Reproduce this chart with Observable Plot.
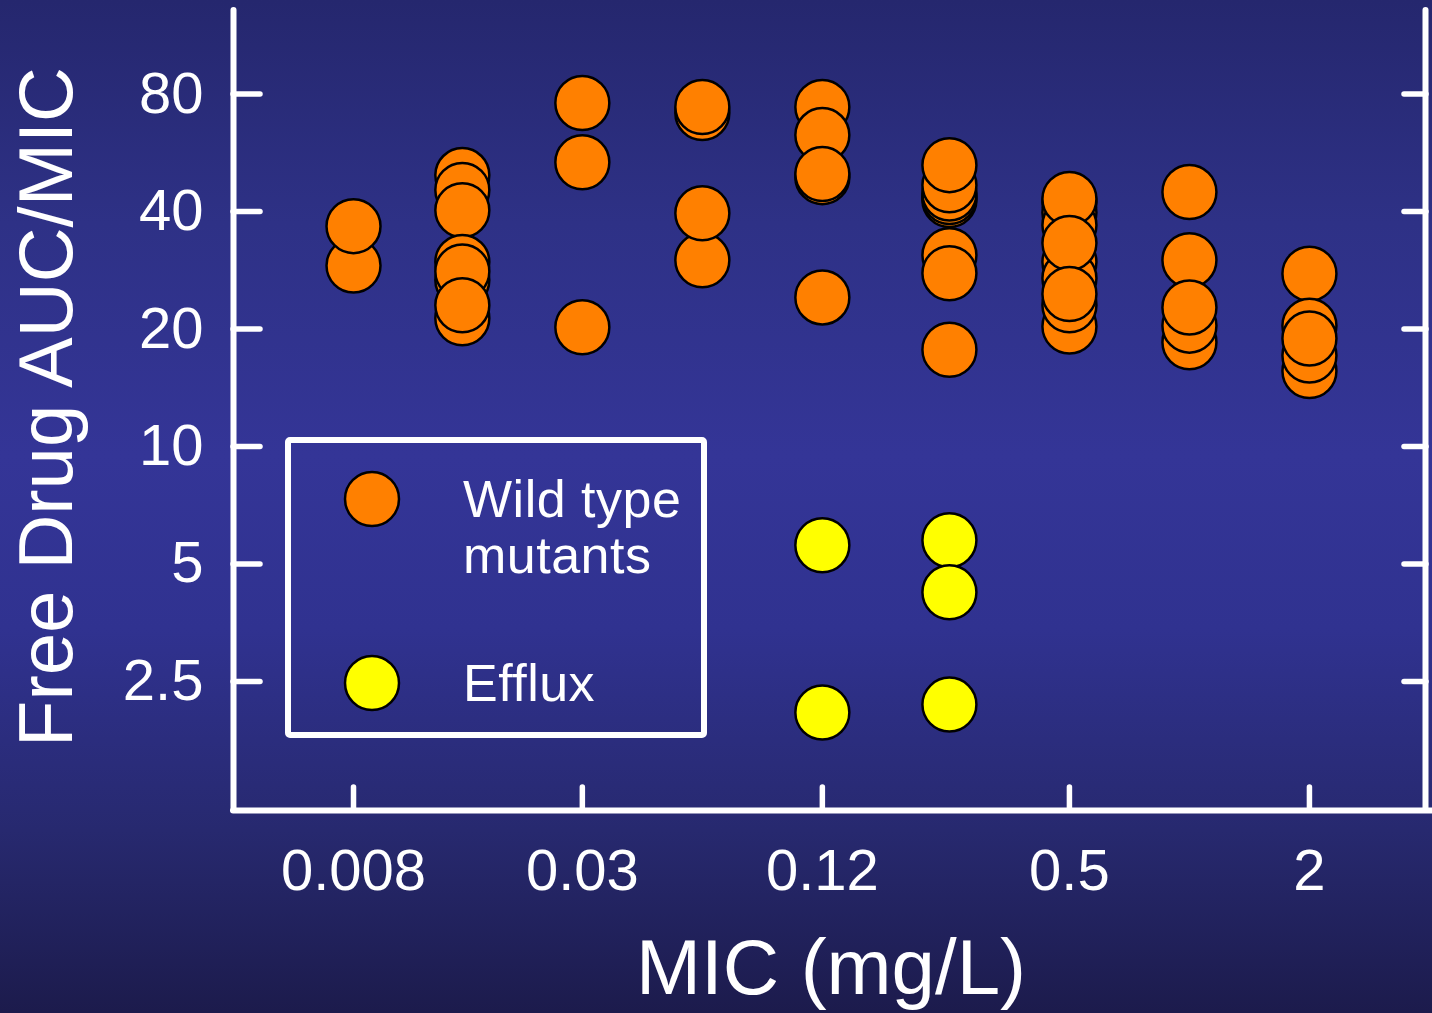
<!DOCTYPE html>
<html>
<head>
<meta charset="utf-8">
<script src="https://cdn.jsdelivr.net/npm/d3@7"></script>
<script src="https://cdn.jsdelivr.net/npm/@observablehq/plot@0.6"></script>
<style>
  html, body { margin: 0; padding: 0; }
  body {
    width: 1432px; height: 1013px; overflow: hidden;
    background: linear-gradient(to bottom, #25276e 0%, #2e3186 22%, #343597 45%, #303290 62%, #27296f 82%, #1c1b4c 100%);
    font-family: "Liberation Sans", Arial, sans-serif;
  }
  #wrap { position: relative; width: 1432px; height: 1013px; }
  #wrap > svg.overlay { position: absolute; left: 0; top: 0; }
  #chart { position: absolute; left: 0; top: 0; }
  svg text { font-variant-ligatures: none; }
</style>
</head>
<body>
<div id="wrap"><div id="chart"></div></div>
<script>
// ---- data ----
const wildMic = [
  0.008, 0.008,
  0.015, 0.015, 0.015, 0.015, 0.015, 0.015, 0.015, 0.015,
  0.03, 0.03, 0.03,
  0.06, 0.06, 0.06, 0.06,
  0.12, 0.12, 0.12, 0.12, 0.12,
  0.25, 0.25, 0.25, 0.25, 0.25, 0.25, 0.25, 0.25,
  0.5, 0.5, 0.5, 0.5, 0.5, 0.5, 0.5, 0.5, 0.5, 0.5,
  1, 1, 1, 1, 1,
  2, 2, 2, 2, 2
];
const wildAuc = [
  29.1, 36.7,
  49.6, 45.4, 40.3, 26.7, 29.7, 28.1, 21.3, 23.0,
  75.9, 53.5, 20.2,
  71.5, 74.1, 30.0, 39.6,
  74.1, 62.8, 49.0, 49.9, 24.1,
  42.8, 43.6, 44.5, 46.7, 52.6, 30.9, 27.8, 17.7,
  42.3, 39.8, 36.9, 43.1, 29.7, 27.0, 33.2, 20.3, 23.0, 24.6,
  44.9, 30.0, 18.5, 20.4, 22.7,
  27.7, 15.6, 17.1, 20.4, 18.9
];
const effluxMic = [0.12, 0.12, 0.25, 0.25, 0.25];
const effluxAuc = [5.58, 2.08, 5.75, 4.23, 2.18];

const xTickValues = [0.008, 0.03, 0.12, 0.5, 2];
const xTickLabels = ["0.008", "0.03", "0.12", "0.5", "2"];
const yTickValues = [2.5, 5, 10, 20, 40, 80];
const yTickLabels = ["2.5", "5", "10", "20", "40", "80"];
const xDomain = [0.004, 3.91];
const yDomain = [1.167, 131];

const seriesNames = [["Wild type", "mutants"], ["Efflux"]];
const seriesColors = ["#ff8000", "#ffff00"];
const xTitle = "MIC (mg/L)";
const yTitle = "Free Drug AUC/MIC";

// ---- build ----
const wild = wildMic.map((m, i) => ({mic: m, auc: wildAuc[i]}));
const efflux = effluxMic.map((m, i) => ({mic: m, auc: effluxAuc[i]}));
const fmtX = d => xTickLabels[xTickValues.indexOf(d)];
const fmtY = d => yTickLabels[yTickValues.indexOf(d)];
const lineStyle = {stroke: "white", strokeWidth: 6, strokeLinecap: "round"};

const chart = Plot.plot({
  width: 1432,
  height: 1013,
  marginLeft: 233,
  marginRight: 7,
  marginTop: 10,
  marginBottom: 203,
  style: {background: "transparent", color: "white", fontFamily: "'Liberation Sans', Arial, sans-serif", overflow: "visible"},
  x: {type: "log", base: 2, domain: xDomain},
  y: {type: "log", base: 2, domain: yDomain},
  marks: [
    // frame lines
    Plot.ruleX([xDomain[0]], lineStyle),
    Plot.ruleX([xDomain[1]], lineStyle),
    Plot.ruleY([yDomain[0]], {...lineStyle, insetRight: -7}),
    // inward ticks
    Plot.axisY({anchor: "left", ticks: yTickValues, tickSize: -27, tickFormat: () => "", label: null, strokeWidth: 5.5, strokeLinecap: "round"}),
    Plot.axisY({anchor: "right", ticks: yTickValues, tickSize: -22, tickFormat: () => "", label: null, strokeWidth: 5.5, strokeLinecap: "round"}),
    Plot.axisX({anchor: "bottom", ticks: xTickValues, tickSize: -23, tickFormat: () => "", label: null, strokeWidth: 5.5, strokeLinecap: "round"}),
    // tick labels
    Plot.axisY({anchor: "left", ticks: yTickValues, tickSize: 0, tickPadding: 30, tickFormat: fmtY, fontSize: 58, label: null}),
    Plot.axisX({anchor: "bottom", ticks: xTickValues, tickSize: 0, tickPadding: 38, tickFormat: fmtX, fontSize: 58, label: null}),
    // data
    Plot.dot(wild, {x: "mic", y: "auc", r: 27, fill: seriesColors[0], stroke: "black", strokeWidth: 2.5}),
    Plot.dot(efflux, {x: "mic", y: "auc", r: 27, fill: seriesColors[1], stroke: "black", strokeWidth: 2.5})
  ]
});
document.getElementById("chart").appendChild(chart);

// ---- overlay: titles and legend ----
const svg = d3.select("#wrap").append("svg")
  .attr("class", "overlay")
  .attr("width", 1432).attr("height", 1013)
  .style("font-family", "'Liberation Sans', Arial, sans-serif");

svg.append("text")
  .attr("x", 831).attr("y", 994)
  .attr("text-anchor", "middle")
  .attr("fill", "white").attr("font-size", 78)
  .text(xTitle);

svg.append("text")
  .attr("transform", "translate(72,407) rotate(-90)")
  .attr("text-anchor", "middle")
  .attr("fill", "white").attr("font-size", 76)
  .text(yTitle);

const lg = svg.append("g");
lg.append("rect")
  .attr("x", 288).attr("y", 440).attr("width", 416).attr("height", 295)
  .attr("fill", "none").attr("stroke", "white").attr("stroke-width", 6).attr("rx", 2);
const legendRows = [{cy: 499, lines: [517, 573]}, {cy: 683, lines: [701]}];
legendRows.forEach((row, i) => {
  lg.append("circle").attr("cx", 372).attr("cy", row.cy).attr("r", 27)
    .attr("fill", seriesColors[i]).attr("stroke", "black").attr("stroke-width", 2.5);
  seriesNames[i].forEach((t, j) => {
    lg.append("text").attr("x", 463).attr("y", row.lines[j])
      .attr("fill", "white").attr("font-size", 52)
      .style("letter-spacing", "0.5px")
      .text(t);
  });
});
</script>
</body>
</html>
